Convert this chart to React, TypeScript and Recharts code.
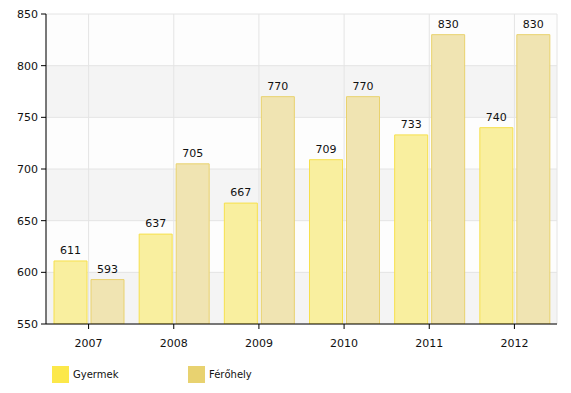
import { BarChart, Bar, XAxis, YAxis, CartesianGrid, LabelList } from 'recharts'

// ── Data ─────────────────────────────────────────
const years = ['2007', '2008', '2009', '2010', '2011', '2012']
const gyermek = [611, 637, 667, 709, 733, 740]
const ferohely = [593, 705, 770, 770, 830, 830]
const yTicks = [550, 600, 650, 700, 750, 800, 850]

const data = years.map((year, i) => ({ year, gyermek: gyermek[i], ferohely: ferohely[i] }))

const FONT = '"DejaVu Sans", Verdana, sans-serif'
const tickStyle = { fill: '#111', fontSize: 11, fontFamily: FONT }

const LEGEND = [
  { name: 'Gyermek', color: '#fce84a' },
  { name: 'Férőhely', color: '#e8d270' },
]

function ChartLegend() {
  return (
    <div
      style={{
        position: 'absolute',
        left: 52,
        top: 366,
        display: 'flex',
        fontFamily: FONT,
        fontSize: 10,
        color: '#111',
      }}
    >
      {LEGEND.map((l) => (
        <div key={l.name} style={{ display: 'flex', alignItems: 'center', width: 136 }}>
          <span style={{ display: 'inline-block', width: 17, height: 17, background: l.color, marginRight: 4 }} />
          <span>{l.name}</span>
        </div>
      ))}
    </div>
  )
}

export default function App() {
  return (
    <div style={{ position: 'absolute', left: 0, top: 0, width: 571, height: 393, background: '#fff' }}>
      <BarChart
        width={571}
        height={393}
        data={data}
        margin={{ top: 14, right: 14, left: 0, bottom: 39 }}
        barCategoryGap={8}
        barGap={4}
      >
        <CartesianGrid stroke="#e4e4e4" horizontalFill={['#fdfdfd', '#f4f4f4']} fillOpacity={1} />
        <XAxis
          dataKey="year"
          tick={tickStyle}
          tickLine={{ stroke: '#000' }}
          tickSize={5}
          axisLine={{ stroke: '#000' }}
          height={30}
          tickMargin={10}
        />
        <YAxis
          domain={[550, 850]}
          ticks={yTicks}
          tick={tickStyle}
          tickLine={{ stroke: '#000' }}
          tickSize={5}
          axisLine={{ stroke: '#000' }}
          width={46}
          tickMargin={3}
          allowDataOverflow
        />
        <Bar dataKey="gyermek" name="Gyermek" fill="#f9ef9f" stroke="#f6e04c" strokeWidth={1} isAnimationActive={false}>
          <LabelList dataKey="gyermek" position="top" offset={7} style={{ fill: '#111', fontSize: 11, fontFamily: FONT }} />
        </Bar>
        <Bar dataKey="ferohely" name="Férőhely" fill="#f0e4b2" stroke="#e9d26e" strokeWidth={1} isAnimationActive={false}>
          <LabelList dataKey="ferohely" position="top" offset={7} style={{ fill: '#111', fontSize: 11, fontFamily: FONT }} />
        </Bar>
      </BarChart>
      <ChartLegend />
    </div>
  )
}
